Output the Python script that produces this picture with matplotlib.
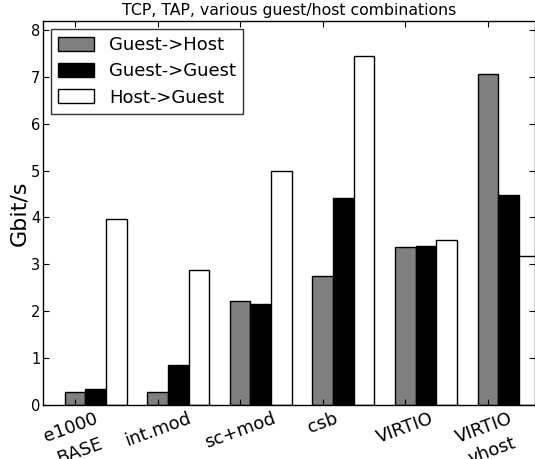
#!/usr/bin/env python3
"""TCP over TAP throughput for several guest/host configurations."""

import matplotlib

matplotlib.use("Agg")
import matplotlib.pyplot as plt  # noqa: E402
import numpy as np  # noqa: E402

CATEGORIES = ["e1000\nBASE", "int.mod", "sc+mod", "csb", "VIRTIO", "VIRTIO\nvhost"]
SERIES = ["Guest->Host", "Guest->Guest", "Host->Guest"]
GUEST_TO_HOST = [0.27, 0.28, 2.21, 2.76, 3.36, 7.06]
GUEST_TO_GUEST = [0.34, 0.85, 2.16, 4.41, 3.39, 4.47]
HOST_TO_GUEST = [3.96, 2.87, 5.00, 7.45, 3.51, 3.17]
COLORS = ["0.5", "black", "white"]

plt.rcParams.update({
    "font.family": "DejaVu Sans",
    "xtick.direction": "in",
    "ytick.direction": "in",
    "xtick.top": True,
    "ytick.right": True,
    "xtick.major.size": 4,
    "ytick.major.size": 4,
    "axes.linewidth": 1.0,
})

fig = plt.figure(figsize=(5.35, 4.59), dpi=100)
ax = fig.add_axes([0.0804, 0.1176, 0.9196, 0.8366])

ind = np.arange(len(CATEGORIES))
width = 0.25
for k, (label, values, color) in enumerate(
        zip(SERIES, [GUEST_TO_HOST, GUEST_TO_GUEST, HOST_TO_GUEST], COLORS)):
    ax.bar(ind + k * width, values, width, color=color, edgecolor="black",
           linewidth=1.0, label=label)

ax.set_xlim(-0.387, 5.57)
ax.set_ylim(0, 8.19)
ax.set_yticks(range(0, 9))
ax.set_xticks(ind)
ax.set_xticklabels(CATEGORIES, rotation=20, ha="center", fontsize=13,
                   linespacing=1.5)
ax.tick_params(axis="y", labelsize=10.5, pad=2)
ax.tick_params(axis="x", pad=3)
ax.set_ylabel("Gbit/s", fontsize=16, labelpad=1)
ax.set_title("TCP, TAP, various guest/host combinations", fontsize=11.3, pad=4)

leg = ax.legend(loc="upper left", fontsize=13, fancybox=False,
                handlelength=2.0, handleheight=0.8, borderaxespad=0.45,
                labelspacing=0.45)
leg.get_frame().set_edgecolor("black")
leg.get_frame().set_linewidth(1.0)

fig.savefig("out.png", dpi=100)
